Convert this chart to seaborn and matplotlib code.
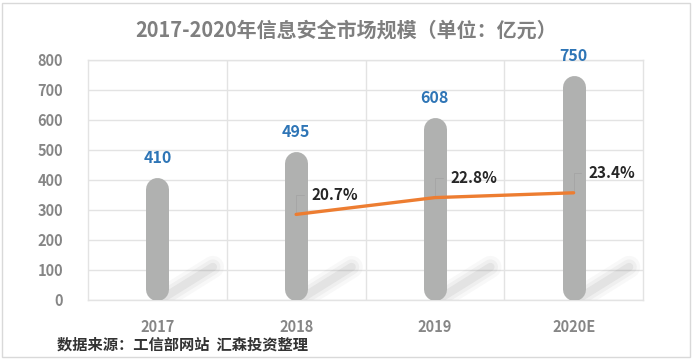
import pandas as pd
import seaborn as sns
import matplotlib.pyplot as plt
import numpy as np
from matplotlib.patches import Rectangle

years = ['2017', '2018', '2019', '2020E']
market = [410, 495, 608, 750]
growth_years = ['2018', '2019', '2020E']
growth = [0.207, 0.228, 0.234]
growth_labels = ['20.7%', '22.8%', '23.4%']

sns.set_style('white')
plt.rcParams['font.family'] = ['Noto Sans CJK SC', 'DejaVu Sans']
plt.rcParams['font.weight'] = 'bold'

df = pd.DataFrame({'year': years, 'market': market})
gdf = pd.DataFrame({'year': growth_years, 'growth': growth})

fig = plt.figure(figsize=(6.93, 3.59), dpi=100)
ax = fig.add_axes([88 / 693, 59 / 359, 555 / 693, 240 / 359])

sns.barplot(data=df, x='year', y='market', color='#b0b1b0', width=0.166, ax=ax, zorder=3)
ax.set_xlim(-0.5, 3.5)
ax.set_ylim(0, 800)

# turn the flat bars into rounded cylinders
px_per_unit = 240 / 800
bar_w_px = 23
r = (bar_w_px / 2) / px_per_unit
for p in ax.patches:
    p.set_visible(False)
    xc = p.get_x() + p.get_width() / 2
    h = p.get_height()
    ax.plot([xc, xc], [r - 3, h - r], color='#b0b1b0', lw=bar_w_px * 72 / 100,
            solid_capstyle='round', zorder=3)
    # soft shadow
    for lw, a in [(16, 0.05), (11, 0.07), (6, 0.10)]:
        ax.plot([xc + 0.06, xc + 0.40], [12, 110], color='#7a7a7a', lw=lw, alpha=a,
                solid_capstyle='round', zorder=2)
    ax.annotate(f'{int(h)}', (xc, h), xytext=(0, 14), textcoords='offset points',
                ha='center', va='center', color='#2e75b6', fontsize=11.5, fontweight='bold')

ax.set_yticks(np.arange(0, 801, 100))
ax.set_yticklabels([str(v) for v in range(0, 801, 100)], fontweight='bold')
ax.set_xticks(range(4))
ax.set_xticklabels(years, fontweight='bold')
ax.set_xticks([0.5, 1.5, 2.5], minor=True)
ax.grid(axis='y', color='#e3e3e3', lw=1, zorder=0)
ax.grid(axis='x', which='minor', color='#e3e3e3', lw=1, zorder=0)
for s in ax.spines.values():
    s.set_color('#e3e3e3')
    s.set_linewidth(1)
ax.tick_params(axis='both', which='both', length=0, colors='#868686', labelsize=10.5)
ax.tick_params(axis='x', pad=14)
ax.tick_params(axis='y', pad=18)
ax.set_xlabel('')
ax.set_ylabel('')

ax2 = ax.twinx()
sns.lineplot(data=gdf, x='year', y='growth', color='#ed7d31', lw=2.4, ax=ax2,
             sort=False, zorder=5)
ax2.set_ylim(0.10, 0.40)
ax2.set_xlim(-0.5, 3.5)
ax2.set_yticks([])
ax2.set_ylabel('')
ax2.set_xlabel('')
for s in ax2.spines.values():
    s.set_visible(False)
for i, (yr, g, lab) in enumerate(zip(growth_years, growth, growth_labels)):
    xi = years.index(yr)
    ax2.annotate(lab, (xi, g), xytext=(11, 14), textcoords='offset points',
                 ha='left', va='center', color='#262626', fontsize=11, fontweight='bold',
                 arrowprops=dict(arrowstyle='-', color='#a6a6a6', lw=0.7,
                                 connectionstyle='angle,angleA=180,angleB=90,rad=0',
                                 relpos=(0, 0.5), shrinkA=3, shrinkB=0))

fig.text(0.5, 1 - 30 / 359, '2017-2020年信息安全市场规模（单位：亿元）', ha='center', va='center',
         fontsize=14.4, fontweight='bold', color='#7f7f7f')
fig.text(57 / 693, 1 - 345 / 359, '数据来源：工信部网站  汇森投资整理', ha='left', va='center',
         fontsize=11, fontweight='bold', color='#333333')

fig.patches.append(Rectangle((2 / 693, 2 / 359), 688 / 693, 354 / 359, transform=fig.transFigure,
                             fill=False, edgecolor='#d9d9d9', lw=1))

fig.savefig('out.png', dpi=100)
